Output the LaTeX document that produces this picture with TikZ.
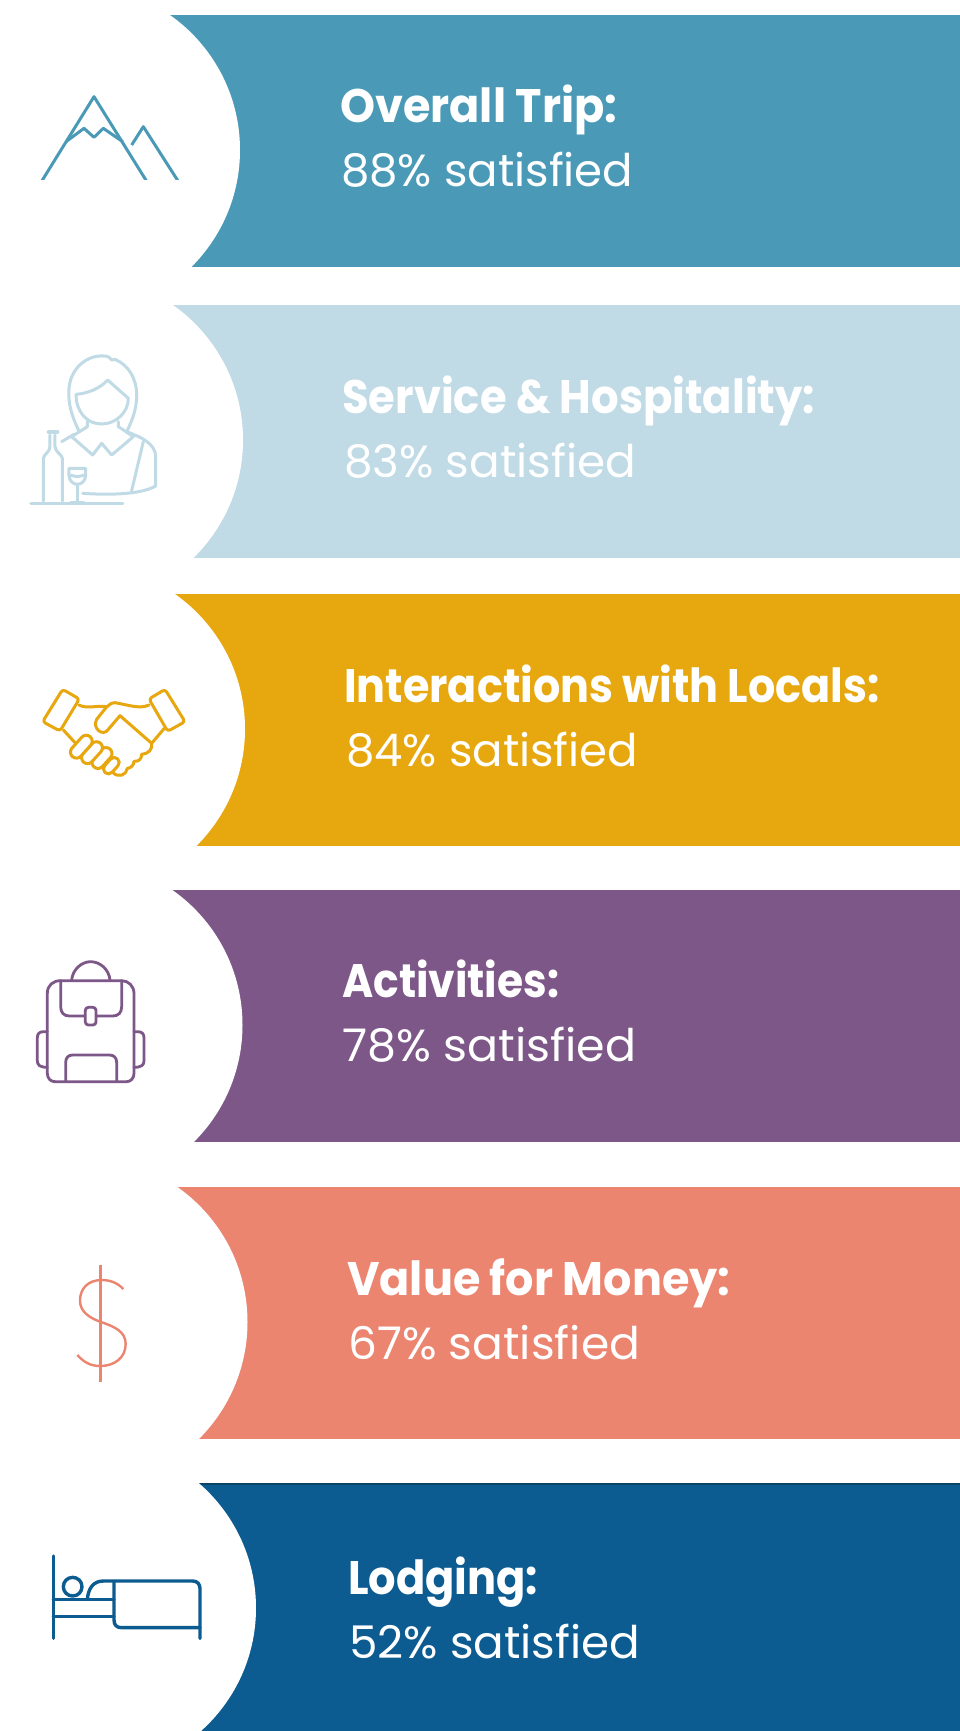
\documentclass[tikz,border=0pt]{standalone}
\usepackage{graphicx}
\usepackage{fontspec}
\setmainfont{Poppins}
\definecolor{cA}{HTML}{4A9AB7}
\definecolor{cB}{HTML}{C0DBE6}
\definecolor{cC}{HTML}{E7A70F}
\definecolor{cD}{HTML}{7C5788}
\definecolor{cE}{HTML}{EB8570}
\definecolor{cF}{HTML}{0D5C91}
\definecolor{cFd}{HTML}{0A4468}
\newcommand{\titletext}[5]{\node[titlestyle] (#1) at (#2,#3) {\resizebox{#4pt}{\height}{#5}};}
\newcommand{\valuetext}[5]{\node[valuestyle] (#1) at (#2,#3) {\resizebox{#4pt}{\height}{#5}};}
\tikzset{
  titlestyle/.style={anchor=base west,inner sep=0pt,text=white,font=\fontsize{47}{50}\selectfont\bfseries},
  valuestyle/.style={anchor=base west,inner sep=0pt,text=white,font=\fontsize{45}{50}\selectfont},
  icon/.style={shift={(0,#1)},x=0.33333pt,y=-0.33333pt,line join=round,line cap=round,line width=3pt},
}
\begin{document}
\begin{tikzpicture}[x=1pt,y=-1pt]
\useasboundingbox (0,0) rectangle (959,1731);
\fill[white] (0,0) rectangle (959,1731);
% banners
\fill[cA] (120,15) rectangle (961,267);
\fill[white] (75,150) circle[radius=165];
\fill[cB] (120,305) rectangle (961,557.5);
\fill[white] (78,440) circle[radius=165];
\fill[cC] (120,594) rectangle (961,846);
\fill[white] (80,729) circle[radius=165];
\fill[cD] (120,890) rectangle (961,1142);
\fill[white] (77.5,1025) circle[radius=165];
\fill[cE] (120,1187) rectangle (961,1439);
\fill[white] (82.5,1322) circle[radius=165];
\fill[cF] (120,1483) rectangle (961,1733);
\fill[cFd] (120,1483.4) rectangle (961,1485);
\fill[white] (91,1608) circle[radius=165];
% texts
\titletext{t1}{340}{122.7}{277}{Overall Trip:}
\valuetext{v1}{341}{187}{292}{88\% satisfied}
\titletext{t2}{342}{413}{473}{Service \& Hospitality:}
\valuetext{v2}{344}{477}{292}{83\% satisfied}
\titletext{t3}{344}{702}{535}{Interactions with Locals:}
\valuetext{v3}{346}{766}{292}{84\% satisfied}
\titletext{t4}{342}{997.5}{217}{Activities:}
\valuetext{v4}{342}{1061.7}{294}{78\% satisfied}
\titletext{t5}{347}{1295}{383}{Value for Money:}
\valuetext{v5}{348}{1359}{292}{67\% satisfied}
\titletext{t6}{348}{1594}{190}{Lodging:}
\valuetext{v6}{349}{1658}{291}{52\% satisfied}
% mountains
\begin{scope}[icon=0,cA,line cap=butt]
  \clip (0,0) rectangle (600,540);
  \draw (115,560) -- (282,290) -- (450,560);
  \draw (395,435) -- (430,380) -- (545,560);
  \draw (198,425) -- (252,385) -- (282,412) -- (310,385) -- (368,425);
\end{scope}
% waitress
\begin{scope}[icon=300,cB]
  \draw (238,395) .. controls (205,330) and (205,290) .. (207,265) .. controls (212,205) and (260,165) .. (310,168) .. controls (325,168) and (330,172) .. (335,180) -- (345,178) .. controls (385,195) and (410,235) .. (410,285) .. controls (410,330) and (395,365) .. (380,395);
  \draw (228,283) .. controls (265,280) and (300,265) .. (323,240) -- (385,295) .. controls (385,340) and (345,372) .. (305,372) .. controls (260,372) and (228,335) .. (228,283) -- cycle;
  \draw (262,365) -- (262,380) -- (215,410) -- (278,465) -- (305,430) -- (335,465) -- (400,410) -- (355,380) -- (355,365);
  \draw (185,425) -- (222,403);
  \draw (380,395) .. controls (420,410) and (467,430) .. (467,470) -- (467,558) .. controls (420,585) and (320,585) .. (248,580);
  \draw (430,425) -- (395,572);
  \draw (130,603) -- (130,475) .. controls (130,465) and (150,455) .. (150,440) -- (150,405);
  \draw (187,603) -- (187,475) .. controls (187,465) and (165,455) .. (165,440) -- (165,405);
  \draw[line width=4.2pt] (146,396) -- (172,396);
  \draw[line width=3.6pt] (93,610) -- (368,610);
  \draw (207,505) -- (257,505) -- (257,525) .. controls (257,542) and (245,553) .. (232,553) .. controls (219,553) and (207,542) .. (207,525) -- cycle;
  \draw (207,525) -- (232,530) -- (257,525);
  \draw (232,553) -- (232,605);
  \draw (212,606) -- (252,606);
\end{scope}
% handshake
\begin{scope}[icon=600,cC]
  \draw[rounded corners=3pt] (188,268) -- (238,297) -- (180,393) -- (128,365) -- cycle;
  \draw[rounded corners=3pt] (495,268) -- (555,365) -- (503,394) -- (447,297) -- cycle;
  \draw (237,315) .. controls (260,328) and (295,315) .. (318,320);
  \draw (447,315) .. controls (420,328) and (385,315) .. (345,308) .. controls (335,308) and (325,315) .. (318,323) -- (290,358) .. controls (275,385) and (310,412) .. (325,388) -- (360,347) -- (455,430);
  \draw (493,385) -- (455,430) .. controls (458,448) and (445,462) .. (425,463) .. controls (425,478) and (415,485) .. (402,484) .. controls (402,495) and (392,505) .. (382,505) .. controls (380,525) and (355,535) .. (338,517);
  \draw (190,390) -- (225,428);
  \begin{scope}[shift={(334,497)},rotate=48]\draw[fill=white,rounded corners=5pt] (-28,-15) rectangle (28,15);\end{scope}
  \begin{scope}[shift={(306,474)},rotate=48]\draw[fill=white,rounded corners=6pt] (-36,-18) rectangle (36,18);\end{scope}
  \begin{scope}[shift={(276,458)},rotate=48]\draw[fill=white,rounded corners=6pt] (-38,-18) rectangle (38,18);\end{scope}
  \begin{scope}[shift={(244,440)},rotate=48]\draw[fill=white,rounded corners=6pt] (-40,-18) rectangle (40,18);\end{scope}
\end{scope}
% backpack
\begin{scope}[icon=890,cD,line width=2.8pt]
  \draw (142,310) .. controls (142,285) and (160,272) .. (182,272) -- (365,272) .. controls (385,272) and (402,288) .. (402,310) -- (402,550) .. controls (402,565) and (392,575) .. (380,575) -- (165,575) .. controls (152,575) and (142,565) .. (142,550) -- cycle;
  \draw (215,270) .. controls (218,238) and (245,215) .. (272,215) .. controls (300,215) and (327,238) .. (330,270);
  \draw (182,272) -- (182,350) .. controls (182,368) and (192,378) .. (208,378) -- (338,378) .. controls (355,378) and (365,368) .. (365,350) -- (365,272);
  \draw[fill=white,rounded corners=3pt] (256,352) rectangle (288,405);
  \draw (197,575) -- (197,518) .. controls (197,503) and (205,495) .. (218,495) -- (328,495) .. controls (342,495) and (350,503) .. (350,518) -- (350,575);
  \draw (142,425) -- (130,425) .. controls (118,425) and (112,432) .. (112,443) -- (112,513) .. controls (112,525) and (120,532) .. (142,532);
  \draw (402,425) -- (414,425) .. controls (426,425) and (432,432) .. (432,443) -- (432,513) .. controls (432,525) and (424,532) .. (402,532);
\end{scope}
% dollar
\begin{scope}[icon=1190,cE,line cap=butt,line width=2.4pt]
  \draw[line width=2.8pt] (302,225) -- (302,577);
  \draw (370,297) .. controls (352,278) and (330,270) .. (305,270) .. controls (265,270) and (240,295) .. (240,332) .. controls (240,365) and (268,383) .. (300,395) .. controls (345,410) and (377,425) .. (377,462) .. controls (377,502) and (345,528) .. (300,528) .. controls (270,528) and (250,515) .. (232,495);
\end{scope}
% bed
\begin{scope}[icon=1480,cF,line width=3.4pt]
  \draw (160,228) -- (160,475);
  \draw (218,320) circle[radius=28];
  \draw (160,358) -- (342,358);
  \draw (160,410) -- (342,410);
  \draw (262,358) .. controls (265,325) and (280,303) .. (310,303) -- (578,303) .. controls (592,303) and (600,312) .. (600,326) -- (600,475);
  \draw (342,305) -- (342,420) .. controls (342,435) and (350,443) .. (365,443) -- (600,443);
\end{scope}
\end{tikzpicture}
\end{document}
